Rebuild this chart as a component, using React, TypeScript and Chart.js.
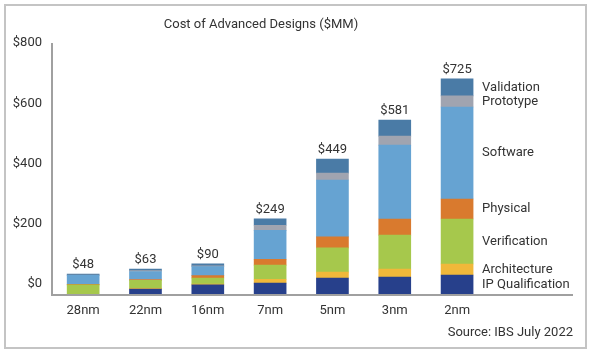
import React, { useEffect, useRef } from "react";
import { Chart, registerables } from "chart.js";

Chart.register(...registerables);

const categories = ["28nm", "22nm", "16nm", "7nm", "5nm", "3nm", "2nm"];
const totals = [48, 63, 90, 249, 449, 581, 725];
const tickValues = [0, 200, 400, 600, 800];

// segment values (bottom to top)
const ipQualification = [0, 20, 34, 40, 57, 60, 67];
const architecture = [0, 2, 3, 13, 20, 27, 37];
const verification = [34, 27, 20, 47, 81, 114, 151];
const physical = [2, 3, 8, 20, 37, 54, 67];
const software = [30, 27, 30, 97, 191, 248, 309];
const prototype = [1, 3, 3, 17, 23, 30, 37];
const validation = [3, 5, 7, 22, 47, 54, 57];

const seriesNames = ["IP Qualification", "Architecture", "Verification", "Physical", "Software", "Prototype", "Validation"];
const seriesValues = [ipQualification, architecture, verification, physical, software, prototype, validation];
const seriesColors = ["#27408b", "#f0b83a", "#a6c84c", "#d97a2e", "#66a3d2", "#a0a4b0", "#4a7ba6"];

const FONT = "Roboto, 'Noto Sans', sans-serif";
const TEXT = "#333333";
const AXIS = "#a0a0a0";

const labelPlugin = {
  id: "labelPlugin",
  afterDatasetsDraw(chart: any) {
    const ctx = chart.ctx;
    const area = chart.chartArea;
    ctx.save();
    ctx.fillStyle = AXIS;
    ctx.fillRect(area.left - 1, area.top, 2, area.bottom - area.top + 1);
    ctx.fillRect(area.left - 1, area.bottom - 1, area.right - area.left + 1, 2);

    ctx.font = `13px ${FONT}`;
    ctx.fillStyle = TEXT;
    const lastMeta = chart.getDatasetMeta(seriesValues.length - 1);
    ctx.textAlign = "center";
    ctx.textBaseline = "middle";
    lastMeta.data.forEach((el: any, i: number) => {
      ctx.fillText(`$${totals[i]}`, el.x, el.y - 9);
    });
    ctx.textAlign = "left";
    const last = categories.length - 1;
    seriesNames.forEach((name, d) => {
      const el: any = chart.getDatasetMeta(d).data[last];
      const cy = (el.y + el.base) / 2;
      ctx.fillText(name, el.x + el.width / 2 + 9, cy);
    });
    ctx.restore();
  },
};

export default function App() {
  const ref = useRef<HTMLCanvasElement | null>(null);

  useEffect(() => {
    if (!ref.current) return;
    const chart = new Chart(ref.current, {
      type: "bar",
      data: {
        datasets: seriesNames.map((name, d) => ({
          label: name,
          data: seriesValues[d].map((v, i) => ({ x: i, y: v })),
          backgroundColor: seriesColors[d],
          borderWidth: 0,
          barThickness: 32,
          yAxisID: "y",
        })),
      },
      options: {
        animation: false,
        responsive: false,
        maintainAspectRatio: false,
        layout: { padding: { top: 43, right: 20, left: 0, bottom: 0 } },
        plugins: {
          legend: { display: false },
          title: { display: false },
          tooltip: { enabled: false },
        },
        scales: {
          x: {
            type: "linear",
            stacked: true,
            offset: false,
            min: -0.5,
            max: 7.86,
            grid: { display: false, offset: false, drawTicks: false },
            border: { display: false },
            afterBuildTicks: (scale: any) => {
              scale.ticks = categories.map((_, i) => ({ value: i }));
            },
            afterFit: (scale: any) => {
              scale.height = 61;
            },
            ticks: {
              autoSkip: false,
              maxRotation: 0,
              padding: 8,
              color: TEXT,
              font: { family: FONT, size: 13 },
              callback: (v: any) => categories[v] ?? "",
            },
          },
          y: {
            type: "linear",
            stacked: true,
            display: false,
            min: 0,
            max: 252 / 0.298,
          },
          yt: {
            type: "linear",
            position: "left",
            min: -36.5,
            max: 800,
            grid: { display: false, drawTicks: false },
            border: { display: false },
            afterBuildTicks: (scale: any) => {
              scale.ticks = tickValues.map((v) => ({ value: v }));
            },
            afterFit: (scale: any) => {
              scale.width = 52;
            },
            ticks: {
              padding: 10,
              color: TEXT,
              font: { family: FONT, size: 13 },
              callback: (v: any) => `$${v}`,
            },
          },
        },
      } as any,
      plugins: [labelPlugin],
    });
    return () => chart.destroy();
  }, []);

  return (
    <div style={{ position: "absolute", left: 0, top: 0, width: 593, height: 356, background: "#fff", fontFamily: FONT }}>
      <div
        style={{
          position: "absolute",
          left: 4,
          top: 4,
          width: 583,
          height: 345,
          border: "2px solid #c4c4c4",
          boxSizing: "border-box",
        }}
      />
      <div style={{ position: "absolute", left: 51, top: 43, width: 2, height: 253, background: AXIS }} />
      <div style={{ position: "absolute", left: 51, top: 294, width: 522, height: 2, background: AXIS }} />
      <canvas ref={ref} width={593} height={356} style={{ position: "absolute", left: 0, top: 0, width: 593, height: 356 }} />
      <div
        style={{
          position: "absolute",
          left: 0,
          top: 16,
          width: 522,
          textAlign: "center",
          fontSize: 13,
          lineHeight: "16px",
          color: TEXT,
        }}
      >
        Cost of Advanced Designs ($MM)
      </div>
      <div
        style={{
          position: "absolute",
          right: 20,
          top: 324,
          fontSize: 13,
          lineHeight: "16px",
          color: TEXT,
        }}
      >
        Source: IBS July 2022
      </div>
    </div>
  );
}
